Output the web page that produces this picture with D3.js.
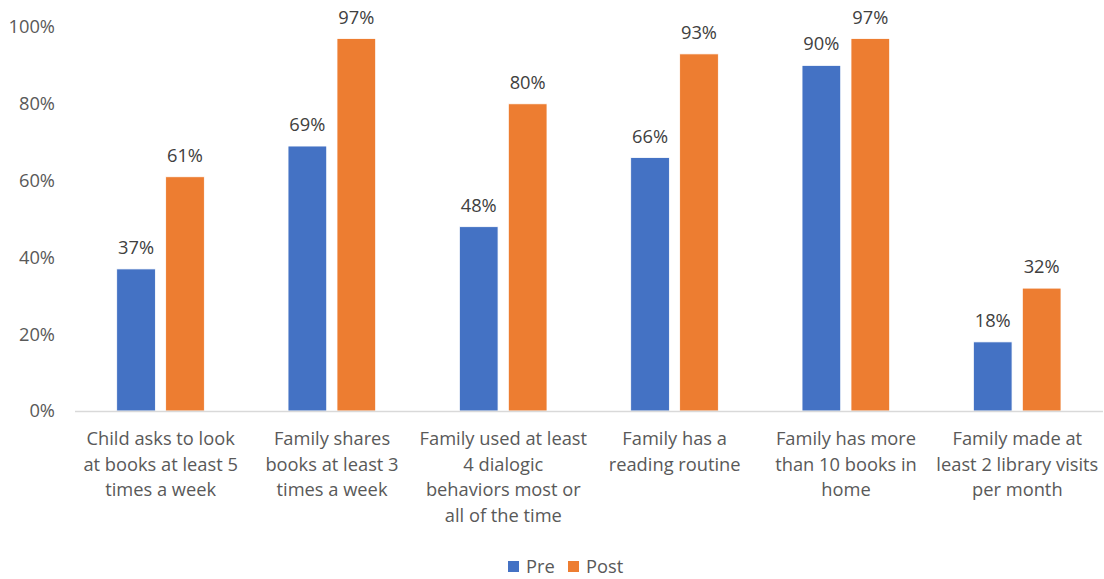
<!DOCTYPE html>
<html><head><meta charset="utf-8">
<script src="https://cdn.jsdelivr.net/npm/d3@7"></script>
<style>body{margin:0;background:#fff}svg{display:block}text{font-family:"Open Sans",Lato,sans-serif}</style>
</head><body>
<svg id="c" width="1104" height="579"></svg>
<script>
const categories = [
  ["Child asks to look","at books at least 5","times a week"],
  ["Family shares","books at least 3","times a week"],
  ["Family used at least","4 dialogic","behaviors most or","all of the time"],
  ["Family has a","reading routine"],
  ["Family has more","than 10 books in","home"],
  ["Family made at","least 2 library visits","per month"]
];
const series = ["Pre","Post"];
const pre  = [37,69,48,66,90,18];
const post = [61,97,80,93,97,32];
const yTicks = [0,20,40,60,80,100];
const colors = ["#4472C4","#ED7D31"];

const FS = 18.3;
const svg = d3.select("#c");
const x0 = d3.scaleBand().domain(d3.range(categories.length)).range([75,1103]).paddingInner(0).paddingOuter(0);
const x1 = d3.scaleBand().domain(series).range([41.7, x0.bandwidth()-42]).paddingInner(0.21).paddingOuter(0);
const y = d3.scaleLinear().domain([0,100]).range([411,27]);

// y axis labels
svg.append("g").selectAll("text").data(yTicks).join("text")
  .attr("x",55).attr("y",d=>y(d)).attr("dy","0.35em")
  .attr("text-anchor","end").attr("fill","#595959").attr("font-size",FS)
  .text(d=>d+"%");

const data = [pre, post];
const g = svg.append("g");
series.forEach((s,si)=>{
  g.selectAll(null).data(data[si]).join("rect")
    .attr("x",(d,i)=>x0(i)+x1(s)).attr("width",x1.bandwidth())
    .attr("y",d=>y(d)).attr("height",d=>y(0)-y(d))
    .attr("fill",colors[si]).attr("stroke","#fff").attr("stroke-width",0.8);
  g.selectAll(null).data(data[si]).join("text")
    .attr("x",(d,i)=>x0(i)+x1(s)+x1.bandwidth()/2).attr("y",d=>y(d)-15)
    .attr("text-anchor","middle").attr("fill","#404040").attr("font-size",FS)
    .text(d=>d+"%");
});

// axis line
svg.append("line").attr("x1",75).attr("x2",1103).attr("y1",y(0)+0.5).attr("y2",y(0)+0.5)
  .attr("stroke","#d9d9d9").attr("stroke-width",1.3);

// x labels
const xl = svg.append("g").selectAll("text").data(categories).join("text")
  .attr("text-anchor","middle").attr("fill","#595959").attr("font-size",FS)
  .attr("transform",(d,i)=>`translate(${x0(i)+x0.bandwidth()/2},445)`);
xl.selectAll("tspan").data(d=>d).join("tspan")
  .attr("x",0).attr("y",(d,i)=>i*25.6).text(d=>d);

// legend
const leg = svg.append("g");
const lx = [508,568];
series.forEach((s,i)=>{
  leg.append("rect").attr("x",lx[i]).attr("y",561).attr("width",11).attr("height",11).attr("fill",colors[i]);
  leg.append("text").attr("x",lx[i]+18).attr("y",567).attr("dy","0.35em").attr("fill","#595959").attr("font-size",FS).text(s);
});
</script>
</body></html>
